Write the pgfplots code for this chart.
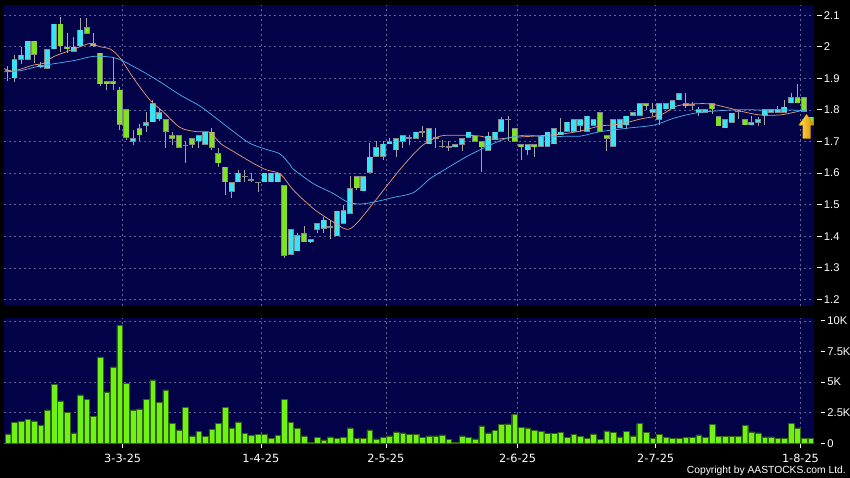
\documentclass[border=0pt]{standalone}
\usepackage{pgfplots}
\pgfplotsset{compat=1.18}
\usepackage{pgfplotstable}
\usepackage{fontspec}
\setmainfont{Liberation Sans}
\newfontfamily\datefont{DejaVu Sans}
\definecolor{navy}{RGB}{2,2,72}
\definecolor{gridc}{RGB}{98,98,150}
\definecolor{upc}{RGB}{56,228,244}
\definecolor{dnc}{RGB}{128,226,36}
\definecolor{bordc}{RGB}{135,135,135}
\definecolor{wickc}{RGB}{165,165,165}
\definecolor{maorange}{RGB}{226,150,112}
\definecolor{mablue}{RGB}{72,170,232}
\definecolor{volc}{RGB}{112,242,22}
\definecolor{volb}{RGB}{50,100,15}
\definecolor{arrowL}{RGB}{255,228,70}
\definecolor{arrowR}{RGB}{215,135,10}
\newcommand\tdash{\rule[3.6pt]{4.5pt}{0.7pt}\hspace{2.2pt}}
\newcommand\ticksize{\fontsize{11.2}{13}\selectfont}
\newcommand\datesize{\datefont\fontsize{11.3}{13}\selectfont}

% up candles (close >= open)
\pgfplotstableread{
i o h l c
-18 1.924 1.940 1.890 1.926
-17 1.900 1.974 1.889 1.960
-16 1.960 2.000 1.945 1.974
-15 1.960 2.019 1.960 2.019
-13 1.937 1.952 1.932 1.942
-12 1.931 1.992 1.931 1.992
-11 1.992 2.072 1.992 2.072
-8 1.984 2.032 1.982 2.000
-7 2.002 2.090 2.002 2.053
1 1.700 1.735 1.689 1.710
3 1.750 1.794 1.731 1.761
4 1.761 1.831 1.761 1.821
5 1.771 1.807 1.765 1.792
11 1.701 1.720 1.680 1.720
12 1.691 1.731 1.691 1.731
16 1.541 1.571 1.520 1.571
17 1.571 1.610 1.571 1.601
18 1.589 1.610 1.571 1.591
19 1.577 1.600 1.571 1.579
20 1.570 1.572 1.541 1.572
21 1.571 1.601 1.571 1.601
22 1.571 1.601 1.571 1.601
23 1.571 1.601 1.571 1.601
25 1.341 1.422 1.341 1.422
26 1.353 1.410 1.353 1.402
28 1.381 1.392 1.378 1.390
29 1.422 1.441 1.410 1.441
30 1.425 1.462 1.410 1.452
31 1.429 1.452 1.390 1.431
32 1.401 1.481 1.401 1.481
33 1.441 1.500 1.441 1.483
34 1.471 1.591 1.471 1.552
36 1.543 1.589 1.543 1.589
37 1.602 1.694 1.602 1.651
38 1.652 1.700 1.652 1.681
39 1.652 1.700 1.642 1.692
40 1.692 1.710 1.692 1.700
41 1.673 1.710 1.650 1.710
42 1.700 1.720 1.680 1.720
43 1.710 1.720 1.690 1.712
44 1.710 1.731 1.710 1.731
45 1.730 1.750 1.715 1.732
46 1.692 1.742 1.692 1.742
47 1.711 1.742 1.680 1.713
48 1.684 1.705 1.678 1.686
49 1.683 1.700 1.670 1.685
50 1.682 1.691 1.682 1.691
51 1.691 1.710 1.670 1.710
52 1.712 1.731 1.712 1.731
55 1.672 1.730 1.672 1.718
56 1.705 1.731 1.705 1.731
57 1.731 1.778 1.731 1.770
58 1.769 1.780 1.700 1.771
61 1.673 1.691 1.657 1.691
63 1.683 1.718 1.683 1.718
64 1.684 1.731 1.684 1.731
65 1.692 1.742 1.692 1.742
66 1.720 1.775 1.720 1.731
67 1.731 1.762 1.731 1.762
68 1.731 1.770 1.731 1.770
69 1.750 1.770 1.731 1.770
70 1.731 1.781 1.731 1.781
71 1.750 1.770 1.750 1.770
74 1.683 1.770 1.683 1.770
75 1.742 1.770 1.742 1.770
76 1.752 1.781 1.741 1.781
77 1.781 1.792 1.781 1.792
78 1.781 1.821 1.781 1.821
80 1.792 1.821 1.780 1.802
81 1.770 1.821 1.752 1.821
82 1.802 1.821 1.802 1.821
83 1.802 1.831 1.802 1.831
84 1.831 1.852 1.831 1.852
85 1.812 1.852 1.805 1.821
86 1.815 1.825 1.800 1.817
87 1.791 1.810 1.780 1.802
88 1.791 1.802 1.791 1.802
91 1.742 1.770 1.742 1.770
92 1.760 1.791 1.760 1.791
93 1.794 1.800 1.770 1.796
95 1.752 1.780 1.752 1.760
96 1.760 1.778 1.748 1.770
97 1.781 1.802 1.752 1.802
98 1.791 1.802 1.791 1.802
99 1.791 1.812 1.791 1.802
100 1.791 1.831 1.791 1.810
101 1.821 1.852 1.821 1.840
}\uptable

% down candles (close < open)
\pgfplotstableread{
i o h l c
-14 2.019 2.019 1.947 1.974
-10 2.072 2.093 1.984 2.002
-9 2.000 2.042 1.979 1.992
-6 2.061 2.090 2.040 2.042
-5 2.010 2.042 1.998 2.003
-4 1.981 1.981 1.876 1.882
-3 1.891 1.891 1.863 1.882
-2 1.891 1.968 1.863 1.882
-1 1.863 1.872 1.737 1.753
0 1.802 1.802 1.705 1.712
2 1.742 1.755 1.700 1.720
6 1.771 1.771 1.680 1.731
7 1.720 1.731 1.689 1.710
8 1.720 1.720 1.681 1.681
9 1.689 1.700 1.631 1.687
10 1.710 1.710 1.680 1.691
13 1.731 1.742 1.672 1.680
14 1.662 1.680 1.620 1.631
15 1.620 1.620 1.530 1.571
24 1.562 1.562 1.330 1.338
27 1.410 1.434 1.382 1.382
35 1.589 1.589 1.545 1.552
53 1.718 1.718 1.700 1.700
54 1.700 1.700 1.602 1.682
59 1.742 1.742 1.700 1.700
60 1.691 1.691 1.640 1.683
62 1.691 1.691 1.650 1.683
72 1.792 1.792 1.731 1.731
73 1.719 1.719 1.670 1.710
79 1.821 1.821 1.800 1.812
89 1.821 1.821 1.787 1.802
90 1.780 1.780 1.749 1.749
94 1.770 1.770 1.752 1.752
102 1.840 1.882 1.821 1.821
103 1.840 1.840 1.795 1.795
104 1.778 1.778 1.757 1.757
}\dntable

% volume (thousands)
\pgfplotstableread{
i v
-18 0.76
-17 1.72
-16 1.77
-15 1.93
-14 1.83
-13 1.47
-12 2.72
-11 4.82
-10 3.46
-9 2.53
-8 0.84
-7 3.95
-6 3.60
-5 2.18
-4 7.00
-3 4.20
-2 6.24
-1 9.65
0 4.90
1 2.72
2 2.81
3 3.60
4 5.18
5 3.35
6 4.36
7 1.61
8 1.09
9 2.94
10 0.60
11 0.98
12 0.54
13 1.14
14 1.61
15 2.94
16 1.25
17 1.74
18 0.82
19 0.65
20 0.74
21 0.74
22 0.41
23 0.63
24 3.60
25 1.72
26 1.20
27 0.60
28 0.08
29 0.46
30 0.27
31 0.52
32 0.38
33 0.49
34 1.25
35 0.41
36 0.41
37 1.09
38 0.35
39 0.49
40 0.60
41 0.93
42 0.84
43 0.74
44 0.74
45 0.47
46 0.60
47 0.60
48 0.68
49 0.33
50 0.05
51 0.60
52 0.46
53 0.35
54 1.42
55 0.84
56 1.04
57 1.53
58 1.58
59 2.34
60 1.31
61 1.25
62 1.04
63 0.98
64 0.82
65 0.82
66 0.87
67 0.49
68 0.74
69 0.54
70 0.38
71 0.76
72 0.33
73 1.01
74 0.90
75 0.52
76 0.98
77 0.60
78 1.61
79 0.87
80 0.38
81 0.74
82 0.49
83 0.38
84 0.38
85 0.46
86 0.46
87 0.68
88 0.46
89 1.53
90 0.54
91 0.54
92 0.54
93 0.57
94 1.47
95 0.93
96 0.84
97 0.52
98 0.52
99 0.38
100 0.41
101 1.63
102 1.25
103 0.41
104 0.41
}\voltable

\pgfplotsset{
  panel/.style={
    scale only axis, width=810pt, anchor=south west,
    xmin=-18.59, xmax=104.51,
    axis background/.style={fill=navy},
    axis line style={draw=none},
    xmajorgrids, ymajorgrids,
    grid style={draw=gridc, dash pattern=on 2pt off 3pt, line width=0.45pt},
    xtick={-0.55,20.45,39.45,59.45,80.45,102.45},
    ytick style={draw=none},
    yticklabel pos=right,
    yticklabel style={font=\ticksize, text=white, anchor=west, inner sep=0pt, xshift=3pt},
    /pgf/number format/assume math mode=true,
  },
  wicks/.style={draw=none, mark=none, forget plot,
    error bars/.cd, y dir=both, y explicit, error mark=none,
    error bar style={line width=0.8pt, draw=wickc, solid}},
  bodyout/.style={draw=none, mark=none, forget plot,
    error bars/.cd, y dir=both, y explicit, error mark=none,
    error bar style={line width=5.9pt, draw=bordc, solid, line cap=butt}},
  bodyin/.style={draw=none, mark=none, forget plot,
    error bars/.cd, y dir=both, y explicit, error mark=none,
    error bar style={line width=4.6pt, draw=#1, solid, line cap=butt}},
}

\begin{document}
\begin{tikzpicture}
\fill[black] (0,0) rectangle (850pt,478pt);

% ---------------- volume panel ----------------
\begin{axis}[panel,
  at={(4pt,33.5pt)}, height=126.5pt,
  ymin=-0.1, ymax=10.24,
  ytick={0,2.5,5,7.5,10},
  yticklabels={\tdash 0,\tdash 2.5K,\tdash 5K,\tdash 7.5K,\tdash 10K},
  xticklabels={3-3-25,1-4-25,2-5-25,2-6-25,2-7-25,1-8-25},
  xtick pos=left, tick align=outside, major tick length=3.5pt,
  xtick style={draw=white, line width=0.7pt},
  xticklabel style={font=\datesize, text=white, inner sep=0pt, anchor=north, yshift=-6pt},
]
\addplot[ybar, bar width=5.7pt, fill=volc, draw=volb, line width=0.4pt] table[x=i, y=v] \voltable;
\end{axis}

% ---------------- price panel ----------------
\begin{axis}[panel,
  at={(4pt,172pt)}, height=301pt,
  ymin=1.1794, ymax=2.132,
  ytick={1.2,1.3,1.4,1.5,1.6,1.7,1.8,1.9,2.0,2.1},
  yticklabel={\tdash\pgfmathprintnumber{\tick}},
  xticklabels={}, xtick style={draw=none},
]
% wicks
\addplot[wicks] table[x=i, y expr={(\thisrow{h}+\thisrow{l})/2}, y error expr={(\thisrow{h}-\thisrow{l})/2}] \uptable;
\addplot[wicks] table[x=i, y expr={(\thisrow{h}+\thisrow{l})/2}, y error expr={(\thisrow{h}-\thisrow{l})/2}] \dntable;
% bodies
\addplot[bodyout] table[x=i, y expr={(\thisrow{o}+\thisrow{c})/2}, y error expr={max(abs(\thisrow{c}-\thisrow{o})/2+0.0006,0.0022)}] \uptable;
\addplot[bodyin=upc] table[x=i, y expr={(\thisrow{o}+\thisrow{c})/2}, y error expr={max(abs(\thisrow{c}-\thisrow{o})/2-0.0014,0)}] \uptable;
\addplot[bodyout] table[x=i, y expr={(\thisrow{o}+\thisrow{c})/2}, y error expr={max(abs(\thisrow{c}-\thisrow{o})/2+0.0006,0.0022)}] \dntable;
\addplot[bodyin=dnc] table[x=i, y expr={(\thisrow{o}+\thisrow{c})/2}, y error expr={max(abs(\thisrow{c}-\thisrow{o})/2-0.0014,0)}] \dntable;

% moving averages
\addplot[maorange, line width=0.75pt, smooth, mark=none] coordinates {
(-18.6,1.931) (-17.2,1.923) (-14.1,1.942) (-12.6,1.947) (-11.1,1.968) (-9.1,1.984)
(-7.0,2.000) (-5.5,2.010) (-4,2.000) (-2.4,1.992) (-0.9,1.963) (1.1,1.900)
(3.6,1.831) (5.6,1.794) (8.2,1.744) (10.7,1.731) (12.7,1.729) (14.3,1.694)
(16.3,1.668) (19.3,1.631) (21.3,1.610) (23.4,1.597) (25.4,1.546) (28.4,1.488)
(31,1.451) (33.5,1.422) (35,1.441) (37.5,1.504) (40.1,1.573) (42.6,1.636)
(45.1,1.689) (47.7,1.717) (50.7,1.720) (53.8,1.717) (55.8,1.707) (58.8,1.713)
(61.9,1.717) (65.9,1.723) (69,1.733) (72,1.749) (75.1,1.755) (78.1,1.771)
(81.2,1.784) (83.6,1.812) (86.2,1.819) (88.7,1.819) (91.2,1.808) (93.8,1.794)
(96.3,1.784) (99.3,1.784) (101.4,1.792) (103.4,1.802)
};
\addplot[mablue, line width=0.75pt, smooth, mark=none] coordinates {
(-18.6,1.921) (-16.2,1.924) (-13.1,1.939) (-10.1,1.949) (-7.5,1.958) (-5.5,1.968)
(-4,1.970) (-2,1.966) (-1,1.960) (2.1,1.926) (5.1,1.889) (8.2,1.847)
(11.2,1.812) (13.2,1.781) (16.3,1.731) (18.8,1.694) (21.3,1.675) (23.4,1.660)
(24.9,1.626) (25.4,1.612) (28.4,1.567) (31.4,1.536) (33.5,1.510) (35.5,1.502)
(38,1.510) (40.6,1.523) (43.6,1.538) (46.2,1.583) (48.7,1.615) (51.7,1.652)
(54.8,1.684) (57.8,1.710) (60.8,1.720) (63.9,1.714) (66.9,1.717) (69,1.717)
(72,1.731) (76.1,1.742) (80.2,1.752) (83.1,1.773) (86.2,1.789) (89.2,1.796)
(92.3,1.800) (96.3,1.800) (100.4,1.800) (103.4,1.797)
};

% latest-price arrow marker
\draw[arrowR, line width=0.4pt, left color=arrowL, right color=arrowR]
  (axis cs:103.37,1.786) -- (axis cs:104.5,1.752) -- (axis cs:103.95,1.752)
  -- (axis cs:103.95,1.710) -- (axis cs:102.8,1.710) -- (axis cs:102.8,1.752)
  -- (axis cs:102.2,1.752) -- cycle;
\end{axis}

\node[anchor=base east, inner sep=0pt, text=white, font=\fontsize{10.3}{12}\selectfont] at (846pt,4pt) {Copyright by AASTOCKS.com Ltd.};

\pgfresetboundingbox
\useasboundingbox (0,0) rectangle (850pt,478pt);
\end{tikzpicture}
\end{document}
